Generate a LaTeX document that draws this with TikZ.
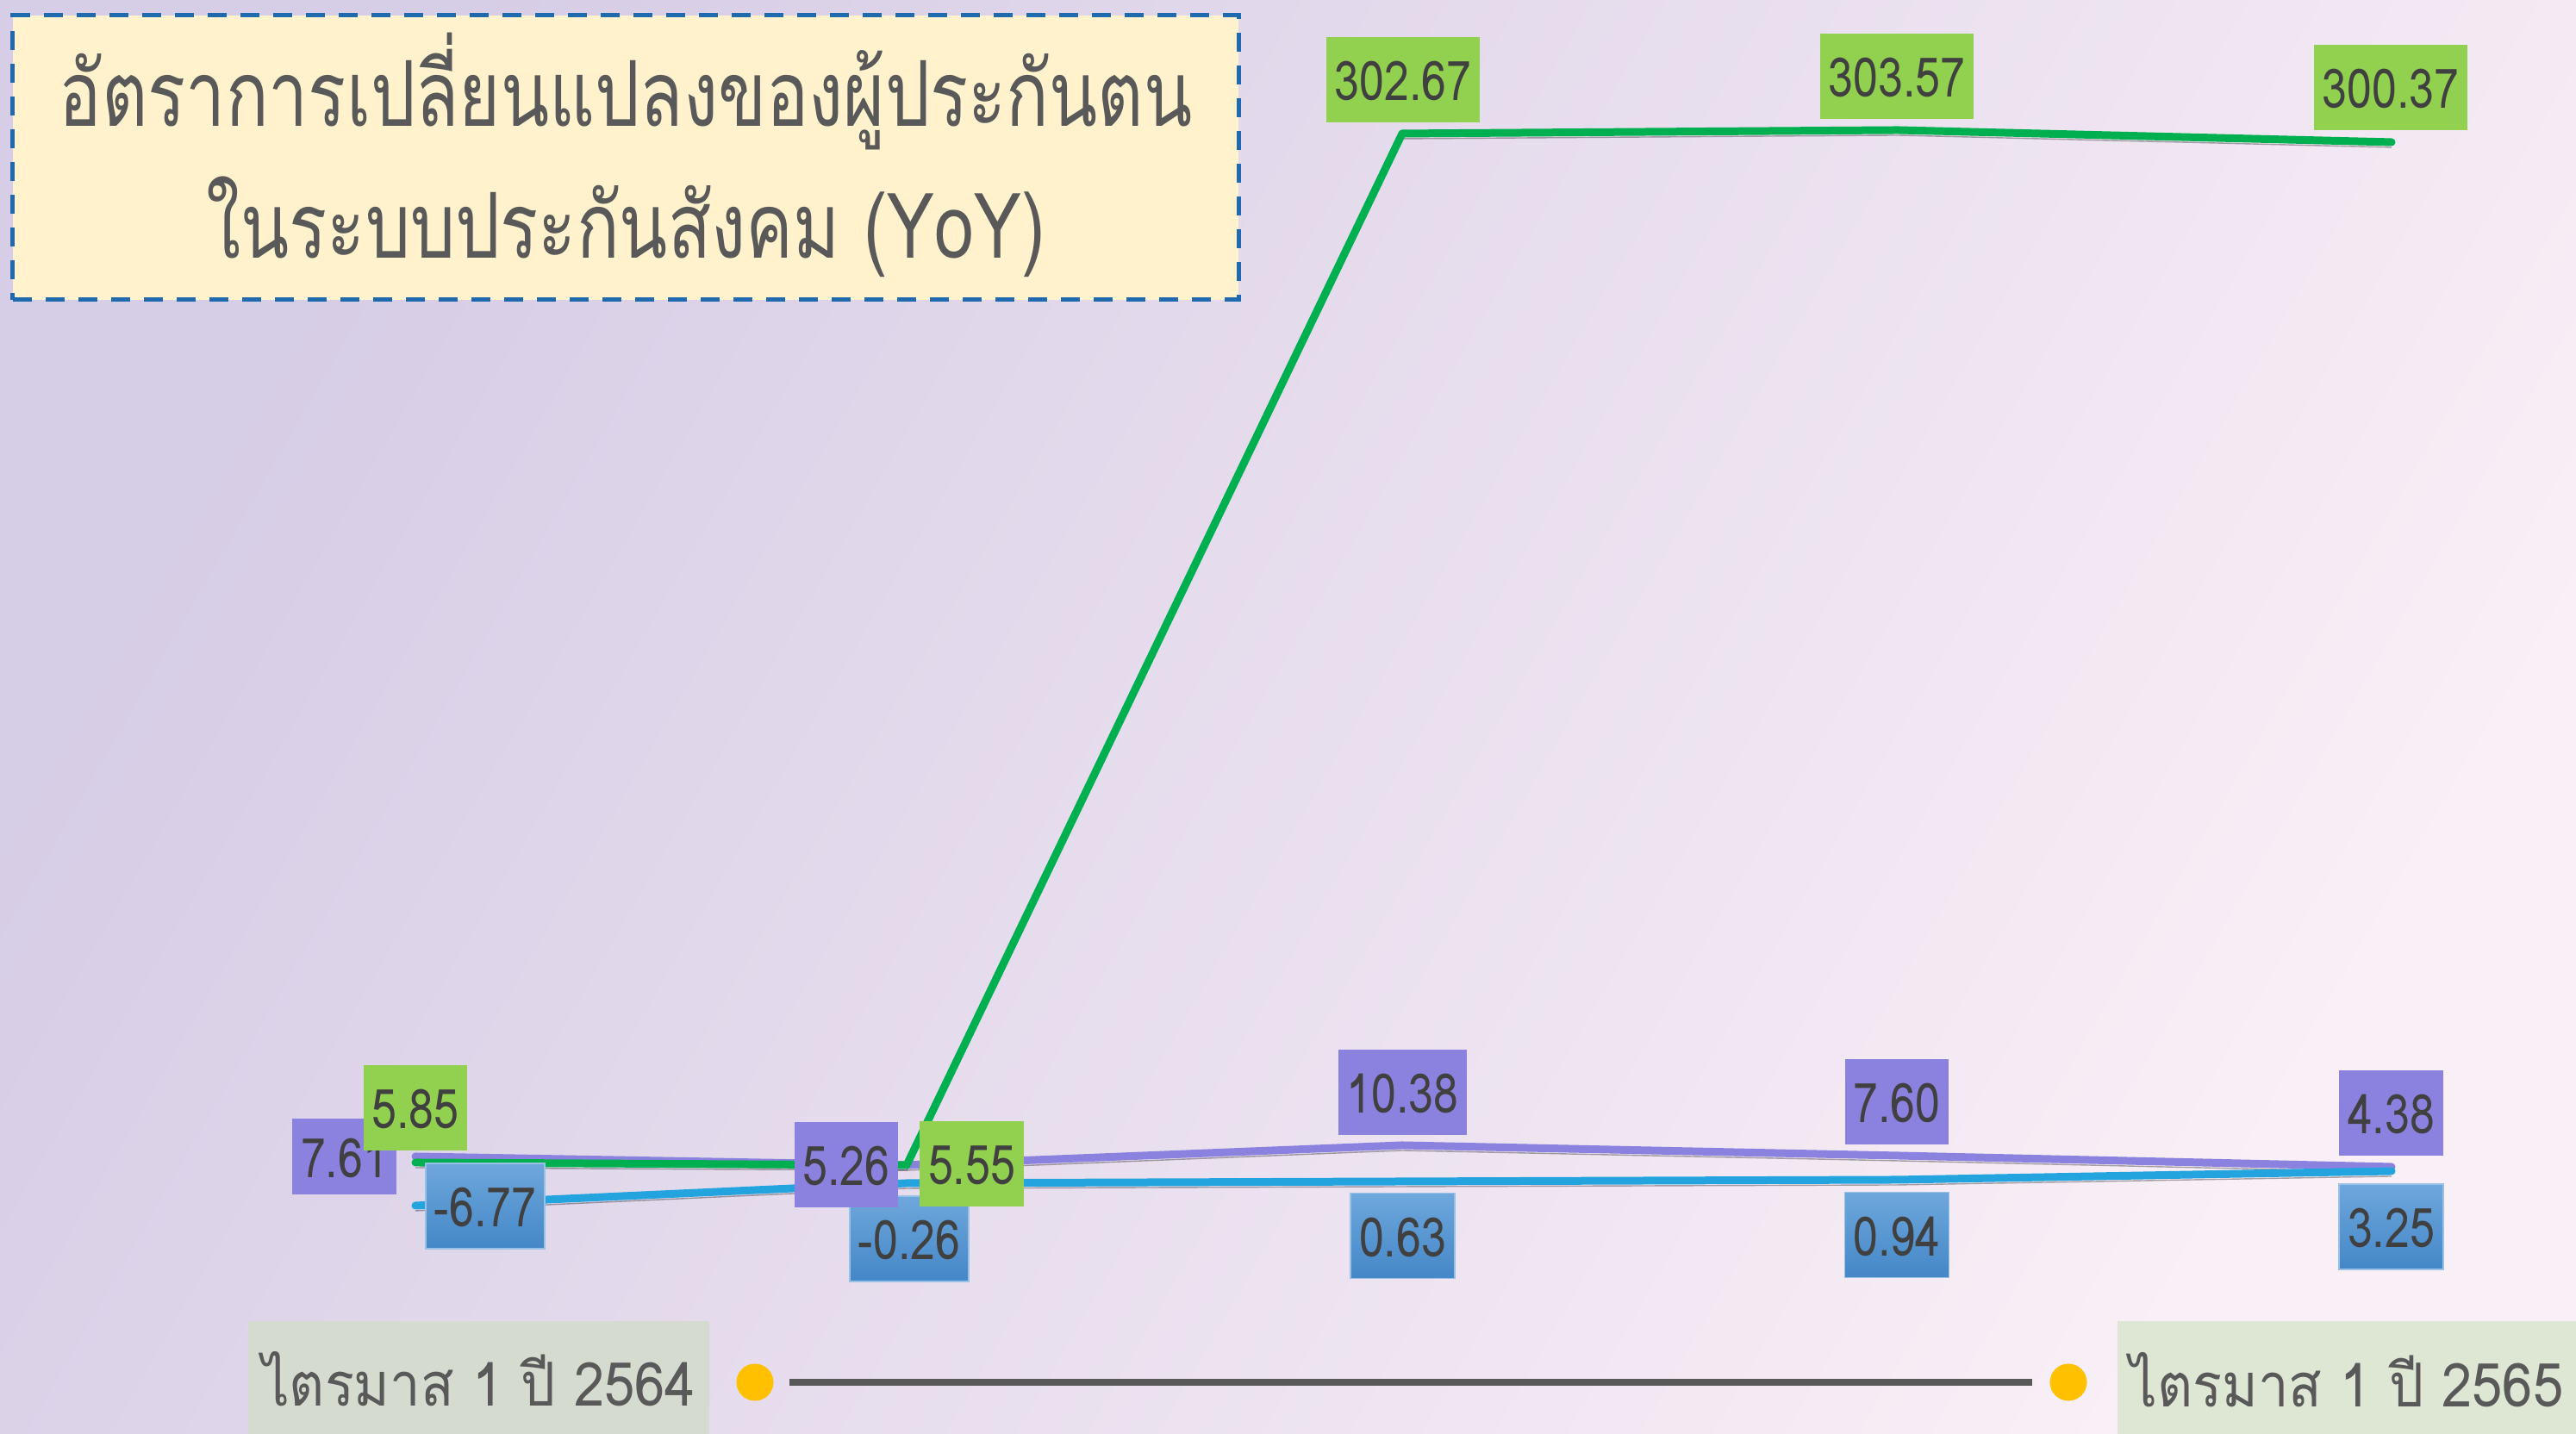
\documentclass[tikz,border=0pt]{standalone}
\usepackage{fontspec}
\usepackage{xcolor}
\usepackage{tikz}

\newfontfamily\titlefont[Script=Thai, FakeStretch=0.78]{Loma}
\newfontfamily\tagfont[Script=Thai, FakeStretch=0.9]{Loma}
\newfontfamily\numfont[Script=Thai, FakeStretch=0.82]{Loma}

\definecolor{bgTL}{HTML}{D6CDE6}
\definecolor{bgBR}{HTML}{F9EFF6}
\definecolor{titleFill}{HTML}{FFF2CC}
\definecolor{titleEdge}{HTML}{1F6AAE}
\definecolor{greyText}{HTML}{595959}
\definecolor{labelText}{HTML}{404040}
\definecolor{greenLine}{HTML}{00B050}
\definecolor{greenBox}{HTML}{92D050}
\definecolor{purpleLine}{HTML}{8B82E0}
\definecolor{blueLine}{HTML}{24A4DE}
\definecolor{blueTop}{HTML}{6EA7DC}
\definecolor{blueBot}{HTML}{4487C7}
\definecolor{dotYellow}{HTML}{FFC000}
\definecolor{leftTag}{HTML}{D5DCCF}
\definecolor{rightTag}{HTML}{DEE6D4}

\tikzset{
  titlebox/.style={draw=titleEdge, fill=titleFill, line width=0.05cm,
    dash pattern=on 0.22cm off 0.16cm, minimum width=14.22cm, minimum height=3.30cm},
  titletext/.style={anchor=base, text=greyText, font=\titlefont\fontsize{30}{36}\selectfont},
  serie/.style={line width=0.09cm, line join=round, line cap=round,
    preaction={draw=black, opacity=0.33, transform canvas={yshift=-0.06cm}}},
  lbl/.style={text=labelText, font=\numfont\fontsize{18}{21}\selectfont,
    minimum height=0.99cm, inner xsep=0.1cm, inner ysep=0pt, text height=0.49cm, text depth=0pt},
  greenlbl/.style={lbl, fill=greenBox},
  purplelbl/.style={lbl, fill=purpleLine},
  bluelbl/.style={lbl, top color=blueTop, bottom color=blueBot, draw=blueTop!70!white, line width=0.4pt},
  tagbox/.style={text=greyText, font=\tagfont\fontsize{20}{24}\selectfont,
    minimum height=1.31cm, inner sep=0pt, text height=0.67cm, text depth=0pt},
  dot/.style={circle, fill=dotYellow, minimum size=0.43cm, inner sep=0pt},
  timeline/.style={draw=greyText, line width=0.08cm, shorten <=0.18cm, shorten >=0.2cm}
}

\begin{document}
\begin{tikzpicture}
\shade[top color=bgTL, bottom color=bgBR, shading angle=60] (0,0) rectangle (29.89,16.64);
\useasboundingbox (0,0) rectangle (29.89,16.64);

% title
\node[titlebox] (title) at (7.26,14.81) {};
\node[titletext] (title1) at (7.26,15.17) {อัตราการเปลี่ยนแปลงของผู้ประกันตน};
\node[titletext] (title2) at (7.26,13.64) {ในระบบประกันสังคม (YoY)};

% data points
\coordinate (g0) at (4.82,3.15);
\coordinate (g1) at (10.52,3.12);
\coordinate (g2) at (16.27,15.09);
\coordinate (g3) at (22.02,15.13);
\coordinate (g4) at (27.75,14.99);

\coordinate (p0) at (4.82,3.22);
\coordinate (p1) at (10.52,3.12);
\coordinate (p2) at (16.27,3.35);
\coordinate (p3) at (22.02,3.23);
\coordinate (p4) at (27.75,3.10);

\coordinate (b0) at (4.82,2.65);
\coordinate (b1) at (10.52,2.91);
\coordinate (b2) at (16.27,2.93);
\coordinate (b3) at (22.02,2.95);
\coordinate (b4) at (27.75,3.05);

\draw[serie, purpleLine] (p0) -- (p1) -- (p2) -- (p3) -- (p4);
\draw[serie, greenLine] (g0) -- (g1) -- (g2) -- (g3) -- (g4);
\draw[serie, blueLine] (b0) -- (b1) -- (b2) -- (b3) -- (b4);

% labels
\node[bluelbl] (lb0) at (5.63,2.645) {-6.77};
\node[bluelbl] (lb1) at (10.55,2.265) {-0.26};
\node[bluelbl] (lb2) at (16.275,2.30) {0.63};
\node[bluelbl] (lb3) at (22.01,2.31) {0.94};
\node[bluelbl] (lb4) at (27.745,2.405) {3.25};

\node[purplelbl, minimum height=0.88cm] (lp0) at (3.995,3.22) {7.61};
\node[purplelbl] (lp1) at (9.82,3.125) {5.26};
\node[purplelbl] (lp2) at (16.275,3.965) {10.38};
\node[purplelbl] (lp3) at (22.01,3.855) {7.60};
\node[purplelbl] (lp4) at (27.745,3.725) {4.38};

\node[greenlbl] (lg0) at (4.82,3.785) {5.85};
\node[greenlbl] (lg1) at (11.275,3.135) {5.55};
\node[greenlbl] (lg2) at (16.28,15.715) {302.67};
\node[greenlbl] (lg3) at (22.01,15.755) {303.57};
\node[greenlbl] (lg4) at (27.74,15.625) {300.37};

% time axis
\node[tagbox, fill=leftTag, minimum width=5.35cm] (startTag) at (5.555,0.655) {ไตรมาส 1 ปี 2564};
\node[tagbox, fill=rightTag, minimum width=5.32cm] (endTag) at (27.23,0.65) {ไตรมาส 1 ปี 2565};
\node[dot] (startDot) at (8.76,0.60) {};
\node[dot] (endDot) at (24.00,0.60) {};
\draw[timeline] (startDot) -- (endDot);
\end{tikzpicture}
\end{document}
